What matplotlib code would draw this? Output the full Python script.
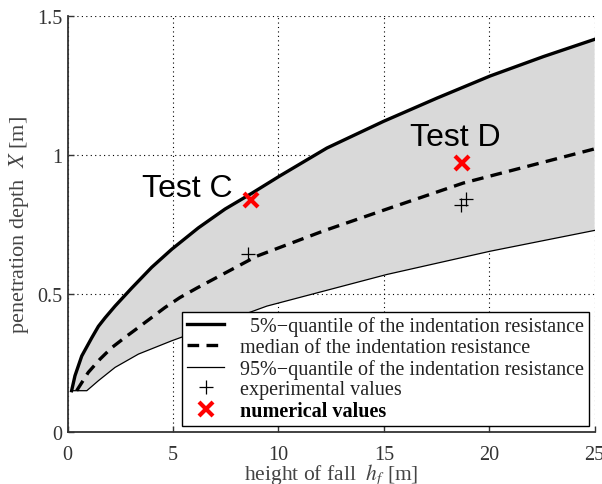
import numpy as np
import matplotlib.pyplot as plt

# curves (height of fall [m], penetration depth [m])
upper_x = [0.19, 0.35, 0.67, 1.14, 1.46, 1.78, 2.25, 3.04, 3.99, 4.94, 6.2, 7.47,
           8.74, 10.08, 12.3, 14.98, 17.52, 20.05, 22.58, 25.0]
upper_y = [0.15, 0.204, 0.275, 0.34, 0.382, 0.413, 0.455, 0.52, 0.595, 0.66, 0.737, 0.805,
           0.862, 0.925, 1.025, 1.121, 1.205, 1.285, 1.355, 1.417]

median_x = [0.43, 0.98, 1.54, 2.09, 2.72, 3.36, 3.99, 4.62, 5.33, 6.13, 8.97, 12.1, 15.3, 18.78, 25.0]
median_y = [0.15, 0.216, 0.264, 0.305, 0.342, 0.378, 0.414, 0.45, 0.486, 0.52, 0.635, 0.725, 0.809, 0.899, 1.022]

lower_x = [0.19, 0.91, 1.46, 2.25, 3.36, 4.94, 9.45, 15.14, 20.05, 25.0]
lower_y = [0.15, 0.15, 0.186, 0.234, 0.282, 0.33, 0.455, 0.569, 0.653, 0.728]

# experimental and numerical values
exp_x = [8.58, 18.67, 18.91]
exp_y = [0.644, 0.821, 0.843]
num_x = [8.70, 18.73]
num_y = [0.837, 0.971]
test_labels = ["Test C", "Test D"]
label_x = [5.69, 18.38]
label_y = [0.851, 1.037]

xticks = [0, 5, 10, 15, 20, 25]
yticks = [0, 0.5, 1, 1.5]
yticklabels = ["0", "0.5", "1", "1.5"]

plt.rcParams["font.family"] = ["Liberation Serif", "DejaVu Serif"]
plt.rcParams["mathtext.fontset"] = "stix"

fig = plt.figure(figsize=(6.02, 4.85), dpi=100)
ax = fig.add_axes([0.1123, 0.1066, 0.8754, 0.8577])

# shaded band between 5% and 95% quantile
poly_x = upper_x + lower_x[::-1]
poly_y = upper_y + lower_y[::-1]
ax.fill(poly_x, poly_y, color="#d9d9d9", lw=0, zorder=1)

h_up, = ax.plot(upper_x, upper_y, color="k", lw=2.4, zorder=3)
h_med, = ax.plot(median_x, median_y, color="k", lw=2.4, dashes=(3.5, 2.2), zorder=3)
h_low, = ax.plot(lower_x, lower_y, color="k", lw=0.9, zorder=3)
h_exp, = ax.plot(exp_x, exp_y, ls="none", marker="+", ms=10, mew=0.9, color="k", zorder=4)
h_num, = ax.plot(num_x, num_y, ls="none", marker="x", ms=10, mew=3, color="#ff0000", zorder=5)

for tx, ty, lab in zip(label_x, label_y, test_labels):
    ax.text(tx, ty, lab, ha="center", va="baseline", fontsize=23,
            family=["Liberation Sans", "DejaVu Sans"], zorder=6)

ax.set_xlim(0, 25)
ax.set_ylim(0, 1.5)
ax.set_xticks(xticks)
ax.set_yticks(yticks)
ax.set_yticklabels(yticklabels)
ax.grid(True, ls=(0, (1, 3)), color="k", lw=0.8)
ax.set_axisbelow(True)

for side in ["top", "right"]:
    ax.spines[side].set_visible(False)
for side in ["left", "bottom"]:
    ax.spines[side].set_color("#333333")
    ax.spines[side].set_linewidth(1.3)
ax.tick_params(direction="in", length=4, width=1, colors="#333333",
               labelsize=14.5)
ax.tick_params(axis="x", pad=9)
ax.tick_params(axis="y", pad=4)

ax.set_xlabel(r"height of fall  $h_f$ [m]", fontsize=15.5, color="#444444", labelpad=-2)
ax.set_ylabel(r"penetration depth  $X$ [m]", fontsize=16, color="#444444", labelpad=4)

leg = ax.legend([h_up, h_med, h_low, h_exp, h_num],
                ["  5%\u2212quantile of the indentation resistance",
                 "median of the indentation resistance",
                 "95%\u2212quantile of the indentation resistance",
                 "experimental values",
                 "numerical values"],
                loc="lower right", bbox_to_anchor=(0.989, 0.015),
                fontsize=14.5, frameon=True, fancybox=False, framealpha=1,
                edgecolor="k", handlelength=1.8, labelspacing=0.08,
                borderpad=0.25, handletextpad=0.8, borderaxespad=0)
leg.get_frame().set_linewidth(1.0)
leg.set_zorder(10)
for t in leg.get_texts():
    t.set_color("#222222")
leg.get_texts()[-1].set_fontweight("bold")
leg.get_texts()[-1].set_color("k")

fig.savefig("out.png", dpi=100)
